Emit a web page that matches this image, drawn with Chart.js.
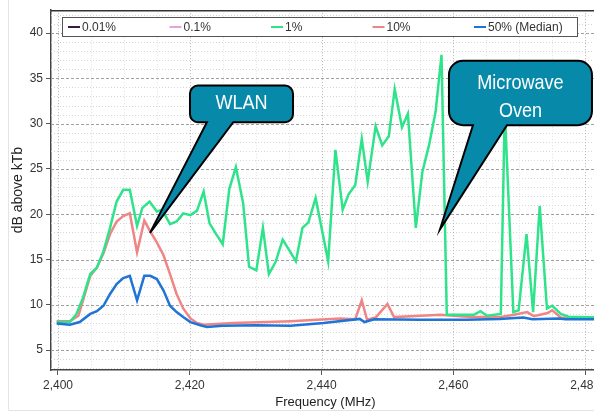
<!DOCTYPE html>
<html>
<head>
<meta charset="utf-8">
<script src="https://cdn.jsdelivr.net/npm/chart.js@4.4.1/dist/chart.umd.min.js"></script>
<style>
  html, body { margin: 0; padding: 0; background: #fff; overflow: hidden; }
  #wrap { position: relative; width: 640px; height: 412px; }
</style>
</head>
<body>
<div id="wrap"><canvas id="c" width="640" height="412"></canvas></div>
<script>
// Percentile series of the measured spectrum (frequency in MHz, level in dB above kTb)
const seriesLabels = ['0.01%', '0.1%', '1%', '10%', '50% (Median)'];
const seriesColors = ['#3a1c3a', '#e8a2dc', '#2fe38b', '#ef8585', '#1f74d6'];

const freq1 = [2399.8, 2401.8, 2402.8, 2403.8, 2404.9, 2405.9, 2406.9, 2407.9, 2408.9, 2409.9,
  2410.9, 2412.0, 2412.8, 2413.9, 2415.0, 2415.8, 2417.0, 2418.0, 2419.0, 2420.1,
  2421.1, 2422.1, 2423.0, 2424.0, 2425.0, 2426.0, 2427.0, 2428.1, 2429.0, 2430.1,
  2431.1, 2432.0, 2433.0, 2434.1, 2435.2, 2436.1, 2437.1, 2438.0, 2439.1, 2441.0,
  2442.1, 2443.2, 2444.1, 2445.1, 2446.1, 2447.0, 2448.2, 2449.2, 2450.2, 2451.1,
  2452.2, 2453.1, 2454.3, 2455.3, 2456.3, 2457.3, 2458.2, 2459.0, 2463.1, 2464.1,
  2465.1, 2467.2, 2467.8, 2469.1, 2469.9, 2471.1, 2472.1, 2473.1, 2474.2, 2475.0,
  2476.3, 2477.5, 2482.5];
const val1 = [8.1, 8.1, 9.0, 10.8, 13.4, 14.1, 15.9, 18.5, 21.4, 22.7,
  22.7, 18.7, 20.7, 21.4, 20.3, 20.5, 18.9, 19.2, 20.1, 19.9,
  20.4, 22.5, 19.0, 17.8, 16.7, 22.8, 25.2, 21.2, 14.2, 13.8,
  18.5, 13.4, 14.7, 17.2, 15.9, 14.8, 18.5, 19.1, 21.8, 14.8,
  27.1, 20.5, 22.2, 23.2, 28.3, 23.6, 29.7, 27.6, 28.6, 33.8,
  29.6, 31.1, 18.5, 24.7, 27.6, 31.3, 37.6, 8.9, 8.9, 9.3,
  8.8, 9.0, 31.5, 9.2, 9.4, 17.8, 9.2, 20.9, 9.6, 9.9,
  9.0, 8.7, 8.6];

const freq10 = [2399.8, 2401.8, 2403.1, 2403.8, 2404.9, 2405.9, 2406.9, 2407.9, 2408.9, 2409.9,
  2410.9, 2412.0, 2413.1, 2414.0, 2415.0, 2416.0, 2417.0, 2418.0, 2419.0, 2420.1,
  2421.1, 2422.1, 2426.6, 2431.7, 2435.3, 2439.3, 2442.9, 2445.1, 2446.1, 2446.9,
  2448.2, 2450.0, 2451.0, 2455.0, 2458.0, 2462.6, 2467.2, 2469.2, 2471.2, 2472.2,
  2474.3, 2475.0, 2476.3, 2482.5];
const val10 = [8.2, 8.2, 8.8, 10.5, 13.2, 14.1, 15.7, 17.8, 19.2, 19.8,
  20.1, 15.8, 19.3, 18.1, 16.9, 15.5, 13.4, 11.2, 9.6, 8.5,
  8.0, 7.8, 8.0, 8.1, 8.2, 8.35, 8.5, 8.4, 10.5, 8.35,
  8.6, 10.1, 8.65, 8.8, 8.9, 8.65, 8.65, 8.9, 9.2, 8.75,
  9.1, 9.4, 8.6, 8.55];

const freq50 = [2399.8, 2401.8, 2403.3, 2404.9, 2405.9, 2406.9, 2407.9, 2408.9, 2409.9, 2410.9,
  2412.0, 2413.1, 2414.0, 2415.0, 2416.0, 2417.0, 2418.0, 2419.0, 2420.1, 2421.6,
  2422.6, 2425.0, 2430.0, 2435.3, 2440.3, 2445.8, 2446.5, 2448.0, 2455.0, 2462.0,
  2467.0, 2470.6, 2472.0, 2476.0, 2477.0, 2482.5];
const val50 = [7.95, 7.8, 8.1, 9.0, 9.3, 9.9, 11.2, 12.3, 12.95, 13.2,
  10.5, 13.2, 13.2, 12.85, 11.6, 9.9, 9.2, 8.65, 8.1, 7.75,
  7.55, 7.7, 7.75, 7.7, 8.0, 8.45, 8.1, 8.4, 8.35, 8.35,
  8.45, 8.6, 8.4, 8.5, 8.4, 8.4];

const xTicks = [2400, 2420, 2440, 2460, 2480];
const yTicks = [5, 10, 15, 20, 25, 30, 35, 40];

// Callout annotations, anchored in data units
const callouts = [
  { lines: ['WLAN'], box: [2420.03, 34.2, 2435.66, 30.16], radius: 8,
    tail: [2422.6, 2426.6], tip: [2413.96, 17.94], baselines: [23.7] },
  { lines: ['Microwave', 'Oven'], box: [2459.33, 36.94, 2481.03, 29.83], radius: 14,
    tail: [2462.97, 2468.13], tip: [2457.97, 18.34], baselines: [28, 56.3] }
];

const toPoints = (xs, ys) => xs.map((x, i) => ({ x: x, y: ys[i] }));
const seriesData = [[], [], toPoints(freq1, val1), toPoints(freq10, val10), toPoints(freq50, val50)];
const drawOrder = [5, 4, 2, 3, 1];

const FONT = '"Liberation Sans", Arial, sans-serif';

const gridPlugin = {
  id: 'plotGrid',
  beforeDatasetsDraw(chart) {
    const { ctx, chartArea: a, scales: { x, y } } = chart;
    ctx.save();
    ctx.beginPath();
    ctx.rect(a.left, a.top, a.right - a.left, a.bottom - a.top);
    ctx.clip();
    ctx.lineWidth = 1;
    // minor horizontal lines, every 1 dB
    ctx.strokeStyle = '#d6d6d6';
    ctx.setLineDash([1, 2]);
    for (let v = Math.ceil(y.min); v <= y.max; v++) {
      if (v % 5 === 0) continue;
      const py = Math.round(y.getPixelForValue(v)) + 0.5;
      ctx.beginPath(); ctx.moveTo(a.left, py); ctx.lineTo(a.right, py); ctx.stroke();
    }
    // minor vertical lines, every 5 MHz
    ctx.strokeStyle = '#e2e2e2';
    for (let f = Math.ceil(x.min / 5) * 5; f <= x.max; f += 5) {
      if (f % 20 === 0) continue;
      const px = Math.round(x.getPixelForValue(f)) + 0.5;
      ctx.beginPath(); ctx.moveTo(px, a.top); ctx.lineTo(px, a.bottom); ctx.stroke();
    }
    // major vertical lines
    ctx.strokeStyle = '#b0b0b0';
    ctx.setLineDash([1, 2]);
    xTicks.forEach(f => {
      const px = Math.round(x.getPixelForValue(f)) + 0.5;
      ctx.beginPath(); ctx.moveTo(px, a.top); ctx.lineTo(px, a.bottom); ctx.stroke();
    });
    // major horizontal lines
    ctx.strokeStyle = '#a0a0a0';
    ctx.setLineDash([3, 2]);
    yTicks.forEach(v => {
      const py = Math.round(y.getPixelForValue(v)) + 0.5;
      ctx.beginPath(); ctx.moveTo(a.left, py); ctx.lineTo(a.right, py); ctx.stroke();
    });
    ctx.restore();
    // top frame line of the plot
    ctx.save();
    ctx.strokeStyle = '#333';
    ctx.lineWidth = 1.5;
    ctx.beginPath(); ctx.moveTo(a.left, a.top + 0.5); ctx.lineTo(a.right, a.top + 0.5); ctx.stroke();
    ctx.restore();
  }
};

function calloutPath(ctx, x0, y0, x1, y1, r, bL, bR, tx, ty) {
  ctx.beginPath();
  ctx.moveTo(x0 + r, y0);
  ctx.lineTo(x1 - r, y0);
  ctx.arcTo(x1, y0, x1, y0 + r, r);
  ctx.lineTo(x1, y1 - r);
  ctx.arcTo(x1, y1, x1 - r, y1, r);
  ctx.lineTo(bR, y1);
  ctx.lineTo(tx, ty);
  ctx.lineTo(bL, y1);
  ctx.lineTo(x0 + r, y1);
  ctx.arcTo(x0, y1, x0, y1 - r, r);
  ctx.lineTo(x0, y0 + r);
  ctx.arcTo(x0, y0, x0 + r, y0, r);
  ctx.closePath();
}

const overlayPlugin = {
  id: 'overlay',
  afterDraw(chart) {
    const { ctx, scales: { x, y } } = chart;
    // outer frame
    ctx.save();
    ctx.strokeStyle = '#e4e4e4';
    ctx.lineWidth = 1;
    ctx.beginPath(); ctx.moveTo(8.5, 0); ctx.lineTo(8.5, 410.5); ctx.lineTo(chart.width, 410.5); ctx.stroke();
    ctx.restore();

    // legend
    ctx.save();
    const lx0 = 62, ly0 = 17, lx1 = 578, ly1 = 37;
    ctx.fillStyle = '#fff';
    ctx.fillRect(lx0, ly0, lx1 - lx0, ly1 - ly0);
    ctx.strokeStyle = '#555';
    ctx.lineWidth = 1;
    ctx.strokeRect(lx0 + 0.5, ly0 + 0.5, lx1 - lx0 - 1, ly1 - ly0 - 1);
    ctx.font = '12px ' + FONT;
    ctx.textBaseline = 'middle';
    ctx.textAlign = 'left';
    chart.data.datasets.forEach((ds, i) => {
      const sx = 68 + i * 101.5;
      const cy = (ly0 + ly1) / 2;
      ctx.strokeStyle = ds.borderColor;
      ctx.lineWidth = 2;
      ctx.beginPath(); ctx.moveTo(sx, cy); ctx.lineTo(sx + 12, cy); ctx.stroke();
      ctx.fillStyle = '#333';
      ctx.fillText(ds.label, sx + 14, cy + 0.5);
    });
    ctx.restore();

    // callouts
    callouts.forEach(c => {
      const x0 = x.getPixelForValue(c.box[0]), y0 = y.getPixelForValue(c.box[1]);
      const x1 = x.getPixelForValue(c.box[2]), y1 = y.getPixelForValue(c.box[3]);
      const bL = x.getPixelForValue(c.tail[0]), bR = x.getPixelForValue(c.tail[1]);
      const tx = x.getPixelForValue(c.tip[0]), ty = y.getPixelForValue(c.tip[1]);
      ctx.save();
      calloutPath(ctx, x0, y0, x1, y1, c.radius, bL, bR, tx, ty);
      ctx.fillStyle = '#0789aa';
      ctx.fill();
      ctx.strokeStyle = '#000';
      ctx.lineWidth = 2;
      ctx.lineJoin = 'miter';
      ctx.stroke();
      ctx.fillStyle = '#fff';
      ctx.font = '21px ' + FONT;
      ctx.textAlign = 'center';
      ctx.textBaseline = 'alphabetic';
      const cx = (x0 + x1) / 2;
      c.lines.forEach((t, k) => {
        ctx.save();
        ctx.translate(cx, y0 + c.baselines[k]);
        ctx.scale(0.86, 1);
        ctx.fillText(t, 0, 0);
        ctx.restore();
      });
      ctx.restore();
    });
  }
};

new Chart(document.getElementById('c'), {
  type: 'line',
  data: {
    datasets: seriesLabels.map((label, i) => ({
      label: label,
      data: seriesData[i],
      borderColor: seriesColors[i],
      backgroundColor: seriesColors[i],
      borderWidth: 2.5,
      pointRadius: 0,
      tension: 0,
      fill: false,
      order: drawOrder[i]
    }))
  },
  options: {
    responsive: false,
    animation: false,
    devicePixelRatio: 1,
    layout: { padding: { left: 0, right: 40, top: 7, bottom: 0 } },
    plugins: { legend: { display: false }, tooltip: { enabled: false } },
    scales: {
      x: {
        type: 'linear',
        min: 2398.94,
        max: 2482.25,
        afterBuildTicks: s => { s.ticks = xTicks.map(v => ({ value: v })); },
        afterFit: s => { s.height = 42; },
        ticks: {
          color: '#333',
          font: { family: FONT, size: 12 },
          padding: 3,
          maxRotation: 0,
          autoSkip: false,
          callback: v => Number(v).toLocaleString('en-US')
        },
        grid: { drawOnChartArea: false, drawTicks: true, tickLength: 5, tickColor: '#555', tickWidth: 1 },
        border: { display: true, color: '#444', width: 1.5 },
        title: { display: true, text: 'Frequency (MHz)', color: '#222',
                 font: { family: FONT, size: 13 }, padding: { top: 0, bottom: 2 } }
      },
      y: {
        type: 'linear',
        min: 2.81,
        max: 42.52,
        afterBuildTicks: s => { s.ticks = yTicks.map(v => ({ value: v })); },
        afterFit: s => { s.width = 51; },
        ticks: {
          color: '#333',
          font: { family: FONT, size: 12 },
          padding: 3
        },
        grid: { drawOnChartArea: false, drawTicks: true, tickLength: 5, tickColor: '#555', tickWidth: 1 },
        border: { display: true, color: '#444', width: 1.5 },
        title: { display: true, text: 'dB above kTb', color: '#222',
                 font: { family: FONT, size: 14 }, padding: { top: 10, bottom: 0 } }
      }
    }
  },
  plugins: [gridPlugin, overlayPlugin]
});
</script>
</body>
</html>
